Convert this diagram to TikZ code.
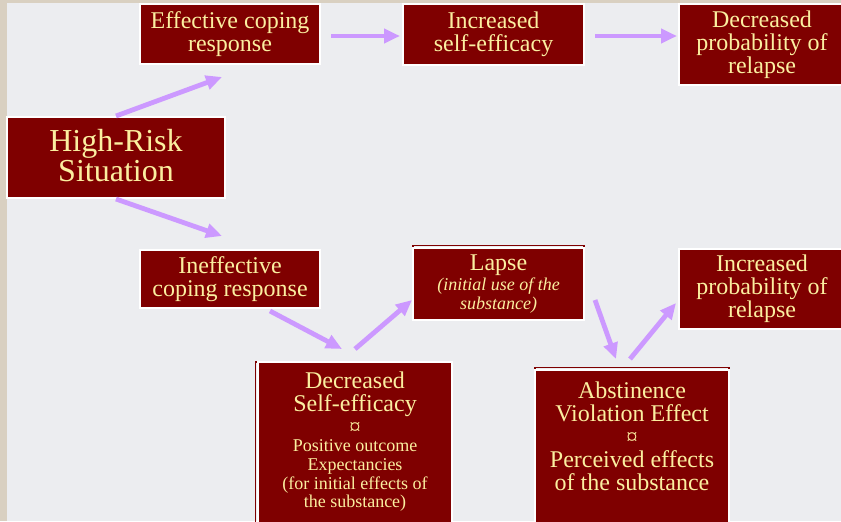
\documentclass[tikz,border=0pt]{standalone}
\usepackage{fontspec}
\setmainfont{Liberation Serif}
\usetikzlibrary{arrows.meta,calc}
\definecolor{boxred}{HTML}{7F0000}
\definecolor{cream}{HTML}{FBEFA0}
\definecolor{lilac}{HTML}{CC99FF}
\definecolor{slide}{HTML}{ECEDF0}
\definecolor{paper}{HTML}{D9D0C1}
\newcommand{\subfont}{\fontsize{13.5}{14}\selectfont}
\newcommand{\symfont}{\fontsize{17}{12}\selectfont}

\begin{document}
\begin{tikzpicture}[x=0.75pt,y=-0.75pt,>={Triangle[length=12pt,width=10.5pt]},
box/.style={draw=white,line width=1.5pt,fill=boxred,text=cream,align=center,inner sep=0pt,
  font=\fontsize{18}{17.25}\selectfont},
edgeup/.style={preaction={draw=boxred,line width=0.8pt,transform canvas={yshift=2.2pt}}},
edgeleft/.style={preaction={draw=boxred,line width=0.8pt,transform canvas={xshift=-2.2pt}}},
arr/.style={->,draw=lilac,line width=3.6pt}]
\clip (0,0) rectangle (841,521);
\useasboundingbox (0,0) rectangle (841,521);
\fill[slide] (0,0) rectangle (841,521);
\fill[paper] (0,0) rectangle (7,521);
\fill[paper] (0,0) rectangle (841,3);

% upper path
\node[box,minimum width=163.5pt,minimum height=60.75pt,font=\fontsize{24}{23}\selectfont] (hrs) at (116,157.5) {High-Risk\\Situation\\[-20pt]\mbox{}};
\node[box,minimum width=135pt,minimum height=45pt] (ecr) at (230,34) {Effective coping\\response};
\node[box,minimum width=135.75pt,minimum height=45.75pt] (isf) at (493.5,34.5) {Increased\\self-efficacy};
\node[box,minimum width=124.5pt,minimum height=60.75pt] (dpr) at (762,44.5) {Decreased\\probability of\\relapse};

% lower path
\node[box,minimum width=135pt,minimum height=43.5pt] (icr) at (230,279) {Ineffective\\coping response};
\node[box,edgeup,minimum width=128.25pt,minimum height=54pt] (lap) at (498.5,284) {Lapse\\[-2.5pt]{\fontsize{13.5}{13.5}\itshape\selectfont (initial use of the}\\[-3pt]{\fontsize{13.5}{13.5}\itshape\selectfont substance)}};
\node[box,minimum width=124.5pt,minimum height=60pt] (ipr) at (762,289) {Increased\\probability of\\relapse};
\node[box,edgeleft,minimum width=145.5pt,minimum height=121.5pt] (dse) at (355,443) {Decreased\\Self-efficacy\\[0pt]{\symfont ¤}\\[-4pt]{\subfont Positive outcome}\\[-3.5pt]{\subfont Expectancies}\\[-3pt]{\subfont (for initial effects of}\\[-3.5pt]{\subfont the substance)}\\[-12pt]\mbox{}};
\node[box,edgeup,minimum width=145.5pt,minimum height=115.5pt] (ave) at (632,447) {Abstinence\\Violation Effect\\{\symfont ¤}\\Perceived effects\\of the substance\\[-1pt]\mbox{}};

\draw[arr] (hrs.north) -- ($(ecr.south)+(-8,12)$);
\draw[arr] ($(ecr.east)+(10,2)$) -- ($(isf.west)+(-2,1.5)$);
\draw[arr] ($(isf.east)+(10,1.5)$) -- ($(dpr.west)+(-1,-8.5)$);
\draw[arr] (hrs.south) -- ($(icr.north)+(-8,-13)$);
\draw[arr] ($(icr.south)+(40,2)$) -- ($(dse.north)+(-13,-12)$);
\draw[arr] ($(dse.north)+(0,-12)$) -- ($(lap.west)+(0,16)$);
\draw[arr] ($(lap.east)+(10,16)$) -- ($(ave.north)+(-16,-10)$);
\draw[arr] ($(ave.north)+(-2,-10)$) -- ($(ipr.west)+(-2,14)$);
\end{tikzpicture}
\end{document}
